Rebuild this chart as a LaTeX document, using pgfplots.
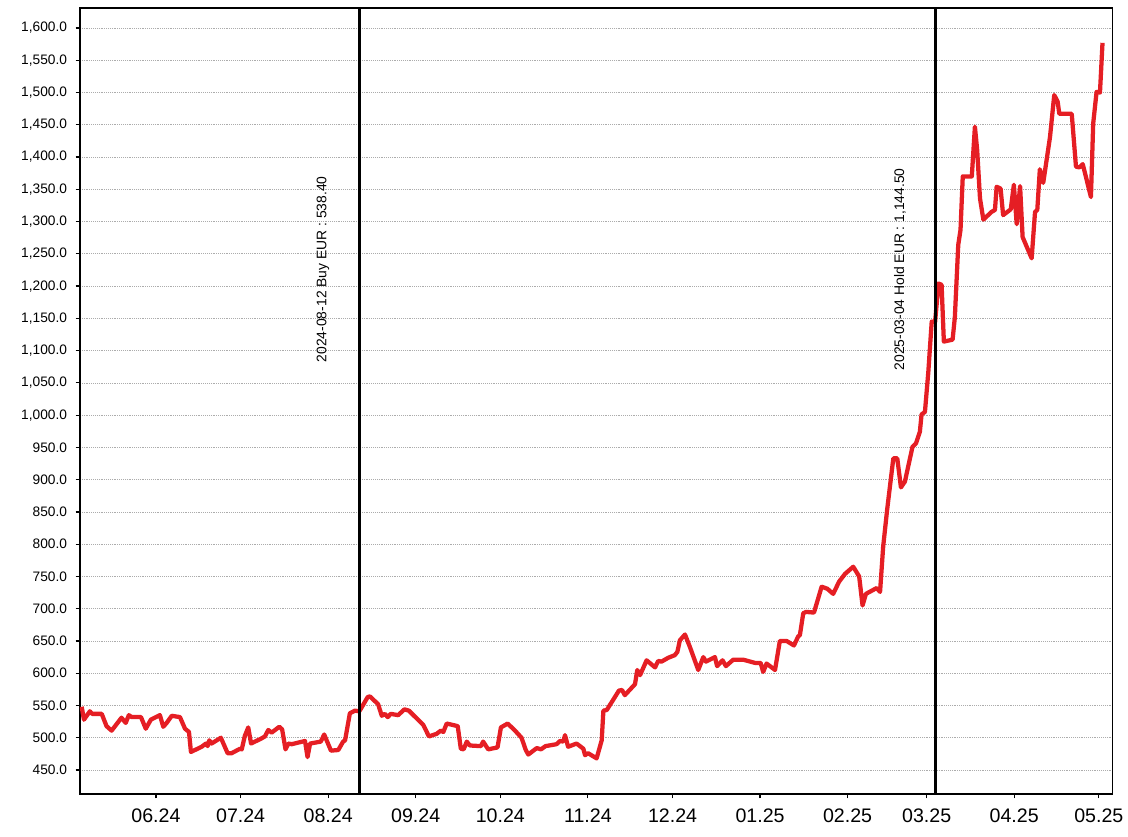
\documentclass[border=0pt]{standalone}
\usepackage{pgfplots}
\pgfplotsset{compat=1.18}
\usepackage{fontspec}
\setmainfont{Liberation Sans}
\definecolor{linered}{RGB}{229,30,36}

% x = days since 2024-06-01
\pgfplotstableread{
x y
-26.3 548
-25.5 528
-23.4 541
-22.6 537
-19.2 537
-17.5 518
-15.7 511
-12.2 531
-10.7 523
-9.6 535
-8.6 532
-5.3 532
-3.6 514
-1.8 528
1.4 535
2.6 517
3.8 523
5.6 534
8.5 532
10.3 514
11.7 509
12.4 478
16.2 486
17.7 491
18.3 487
18.9 496
19.7 491
23.0 500
25.4 476
26.8 476
29.8 483
30.4 482
31.5 503
32.7 516
33.7 491
37.4 499
38.6 502
39.8 512
41.0 508
43.7 517
44.7 513
45.9 482
46.9 491
48.1 490
52.8 495
53.7 470
54.6 491
58.4 494
59.6 505
62.0 480
64.6 481
66.3 494
67.0 496
68.7 538
70.5 542
72.0 541
72.6 545
75.0 563
75.8 564
78.7 552
80.0 534
81.1 537
82.1 532
83.2 537
85.8 535
88.0 544
89.6 542
93.5 525
94.7 520
96.7 502
99.4 506
100.9 511
101.8 509
103.0 522
106.9 518
108.0 483
109.0 482
110.1 494
111.2 488
115.1 487
115.9 494
117.7 482
121.0 485
122.2 516
124.6 522
127.2 511
129.5 500
131.0 481
131.9 474
134.9 484
136.4 482
138.0 487
141.9 490
143.1 495
144.3 494
144.9 504
146.0 486
149.0 491
151.4 483
152.0 473
153.1 476
156.1 468
157.9 496
158.5 542
159.7 543
164.0 573
165.1 574
166.1 566
169.7 583
170.5 605
171.5 597
173.8 620
176.8 609
177.9 619
179.1 618
181.5 624
183.8 628
184.7 633
185.6 651
187.4 660
189.2 640
192.1 605
193.9 625
194.8 618
198.0 625
198.8 611
200.7 620
201.9 611
204.5 621
208.0 621
212.2 616
214.2 616
215.1 602
216.3 615
219.3 605
221.0 650
223.4 650
226.0 643
227.5 657
228.1 659
229.3 693
230.3 695
233.1 694
235.8 734
237.8 731
239.9 723
242.0 742
244.1 754
247.0 765
249.1 750
250.3 705
251.5 723
255.3 732
256.5 726
257.6 796
259.0 853
261.2 933
262.6 933
263.9 888
265.3 897
268.0 951
269.2 956
270.6 974
271.2 1001
272.4 1005
273.6 1067
274.8 1145
276.0 1144.5
277.2 1204
278.3 1202
279.1 1114
282.2 1117
283.0 1152
284.2 1264
285.0 1287
285.8 1370
289.0 1370
290.1 1447
290.9 1411
291.9 1336
293.1 1303
296.0 1315
297.2 1318
297.8 1354
299.2 1351
300.1 1310
302.8 1319
303.9 1357
304.9 1296
306.1 1355
307.0 1276
310.2 1243
311.4 1315
312.2 1318
313.1 1381
314.3 1360
316.7 1431
318.2 1496
319.4 1486
320.0 1467
324.4 1467
325.9 1385
327.1 1384
328.3 1389
331.2 1338
332.0 1452
333.2 1501
334.4 1500
335.3 1577
}\pricedata

\begin{document}
\begin{tikzpicture}
\begin{axis}[
  name=ax,
  scale only axis,
  width=774.5pt, height=589.5pt,
  xmin=-26.9, xmax=338.9,
  ymin=412.8, ymax=1631,
  xtick={0,30,61,92,122,153,183,214,245,273,304,334},
  xticklabels={06.24,07.24,08.24,09.24,10.24,11.24,12.24,01.25,02.25,03.25,04.25,05.25},
  ytick={450,500,...,1600},
  ymajorgrids,
  grid style={densely dotted, gray!65, line width=0.5pt},
  axis line style={black, line width=0.9pt},
  tick style={black, line width=0.9pt},
  tick align=outside,
  major tick length=3.2pt,
  xtick pos=bottom, ytick pos=left,
  /pgf/number format/assume math mode=true,
  x tick label style={font=\fontsize{14.7}{16}\selectfont, yshift=-4.5pt},
  y tick label style={/pgf/number format/.cd, fixed, fixed zerofill, precision=1, 1000 sep={,}, /tikz/.cd, font=\fontsize{10.3}{12}\selectfont, xshift=-3pt},
]
\addplot[linered, line width=3.2pt, line join=round] table {\pricedata};
\addplot[black, line width=2.2pt, forget plot] coordinates {(72,412.8) (72,1631)};
\addplot[black, line width=2.2pt, forget plot] coordinates {(276,412.8) (276,1631)};
\node[rotate=90, font=\fontsize{10.4}{12}\selectfont] at (axis cs:59.2,1226) {2024-08-12 Buy EUR : 538.40};
\node[rotate=90, font=\fontsize{10.4}{12}\selectfont] at (axis cs:263.6,1226) {2025-03-04 Hold EUR : 1,144.50};
\end{axis}
\pgfresetboundingbox
\path[use as bounding box] ([shift={(-60pt,-31.5pt)}]ax.south west) rectangle ([shift={(11.5pt,6pt)}]ax.north east);
\end{tikzpicture}
\end{document}
